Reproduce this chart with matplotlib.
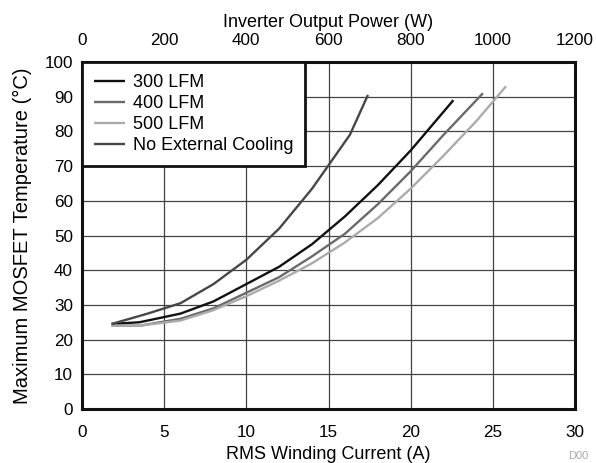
import matplotlib
matplotlib.use("Agg")
import matplotlib.pyplot as plt

plt.rcParams['font.family'] = ['Liberation Sans', 'DejaVu Sans']

x_300 = [1.8, 3.5, 6, 8, 10, 12, 14, 16, 18, 20, 22.6]
y_300 = [24.5, 25, 27.5, 31, 36, 41, 47.5, 55.5, 64.5, 74.5, 89]
x_400 = [1.8, 3.5, 6, 8, 10, 12, 14, 16, 18, 20, 22, 24.4]
y_400 = [24, 24, 26, 29, 33.5, 38, 44, 50.5, 59, 68.5, 79, 91]
x_500 = [1.8, 3.5, 6, 8, 10, 12, 14, 16, 18, 20, 22, 24, 25.8]
y_500 = [24, 24, 25.5, 28.5, 32.5, 37, 42, 48, 55, 63.5, 73, 83, 93]
x_noc = [1.8, 4, 6, 8, 10, 12, 14, 16.3, 17.4]
y_noc = [24.5, 27.5, 30.5, 36, 43, 52, 63.5, 79, 90.5]

labels = ["300 LFM", "400 LFM", "500 LFM", "No External Cooling"]
colors = ["#111111", "#6a6a6a", "#ababab", "#474747"]

x_ticks = [0, 5, 10, 15, 20, 25, 30]
y_ticks = list(range(0, 101, 10))
top_ticks = [0, 200, 400, 600, 800, 1000, 1200]

TICK_FS = 12.3
LAB_FS = 13

fig = plt.figure(figsize=(5.96, 4.63), dpi=100)
ax = fig.add_axes([82/596, 1 - 409/463, (575-82)/596, (409-62)/463])

series = [(x_300, y_300), (x_400, y_400), (x_500, y_500), (x_noc, y_noc)]
for (xs, ys), lab, c in zip(series, labels, colors):
    ax.plot(xs, ys, color=c, lw=1.7, label=lab, solid_capstyle='butt')

ax.set_xlim(0, 30)
ax.set_ylim(0, 100)
ax.set_xticks(x_ticks)
ax.set_yticks(y_ticks)
ax.grid(True, color="#444444", lw=0.9)
ax.set_axisbelow(True)
for s in ax.spines.values():
    s.set_linewidth(2.2)
    s.set_color("#111111")
ax.tick_params(axis='x', length=0, labelsize=TICK_FS, pad=11.5)
ax.tick_params(axis='y', length=0, labelsize=TICK_FS, pad=6.5)
ax.set_xlabel("RMS Winding Current (A)", fontsize=LAB_FS, labelpad=4)
ax.set_ylabel("Maximum MOSFET Temperature (°C)", fontsize=14.5, labelpad=9)

ax2 = ax.twiny()
ax2.set_xlim(0, 1200)
ax2.set_xticks(top_ticks)
ax2.tick_params(length=0, labelsize=TICK_FS, pad=10)
ax2.set_xlabel("Inverter Output Power (W)", fontsize=LAB_FS, labelpad=4.5)
for s in ax2.spines.values():
    s.set_visible(False)

leg = ax.legend(loc="upper left", fontsize=13, frameon=True, fancybox=False,
                borderaxespad=0, handlelength=1.7, handletextpad=0.45,
                labelspacing=0.22, borderpad=0.66)
leg.get_frame().set_edgecolor("#111111")
leg.get_frame().set_linewidth(2)
leg.get_frame().set_alpha(1)

fig.text(568/596, 1 - 456/463, "D00", fontsize=8, color="#aaaaaa", ha="left", va="center")

fig.savefig("out.png", dpi=100)
